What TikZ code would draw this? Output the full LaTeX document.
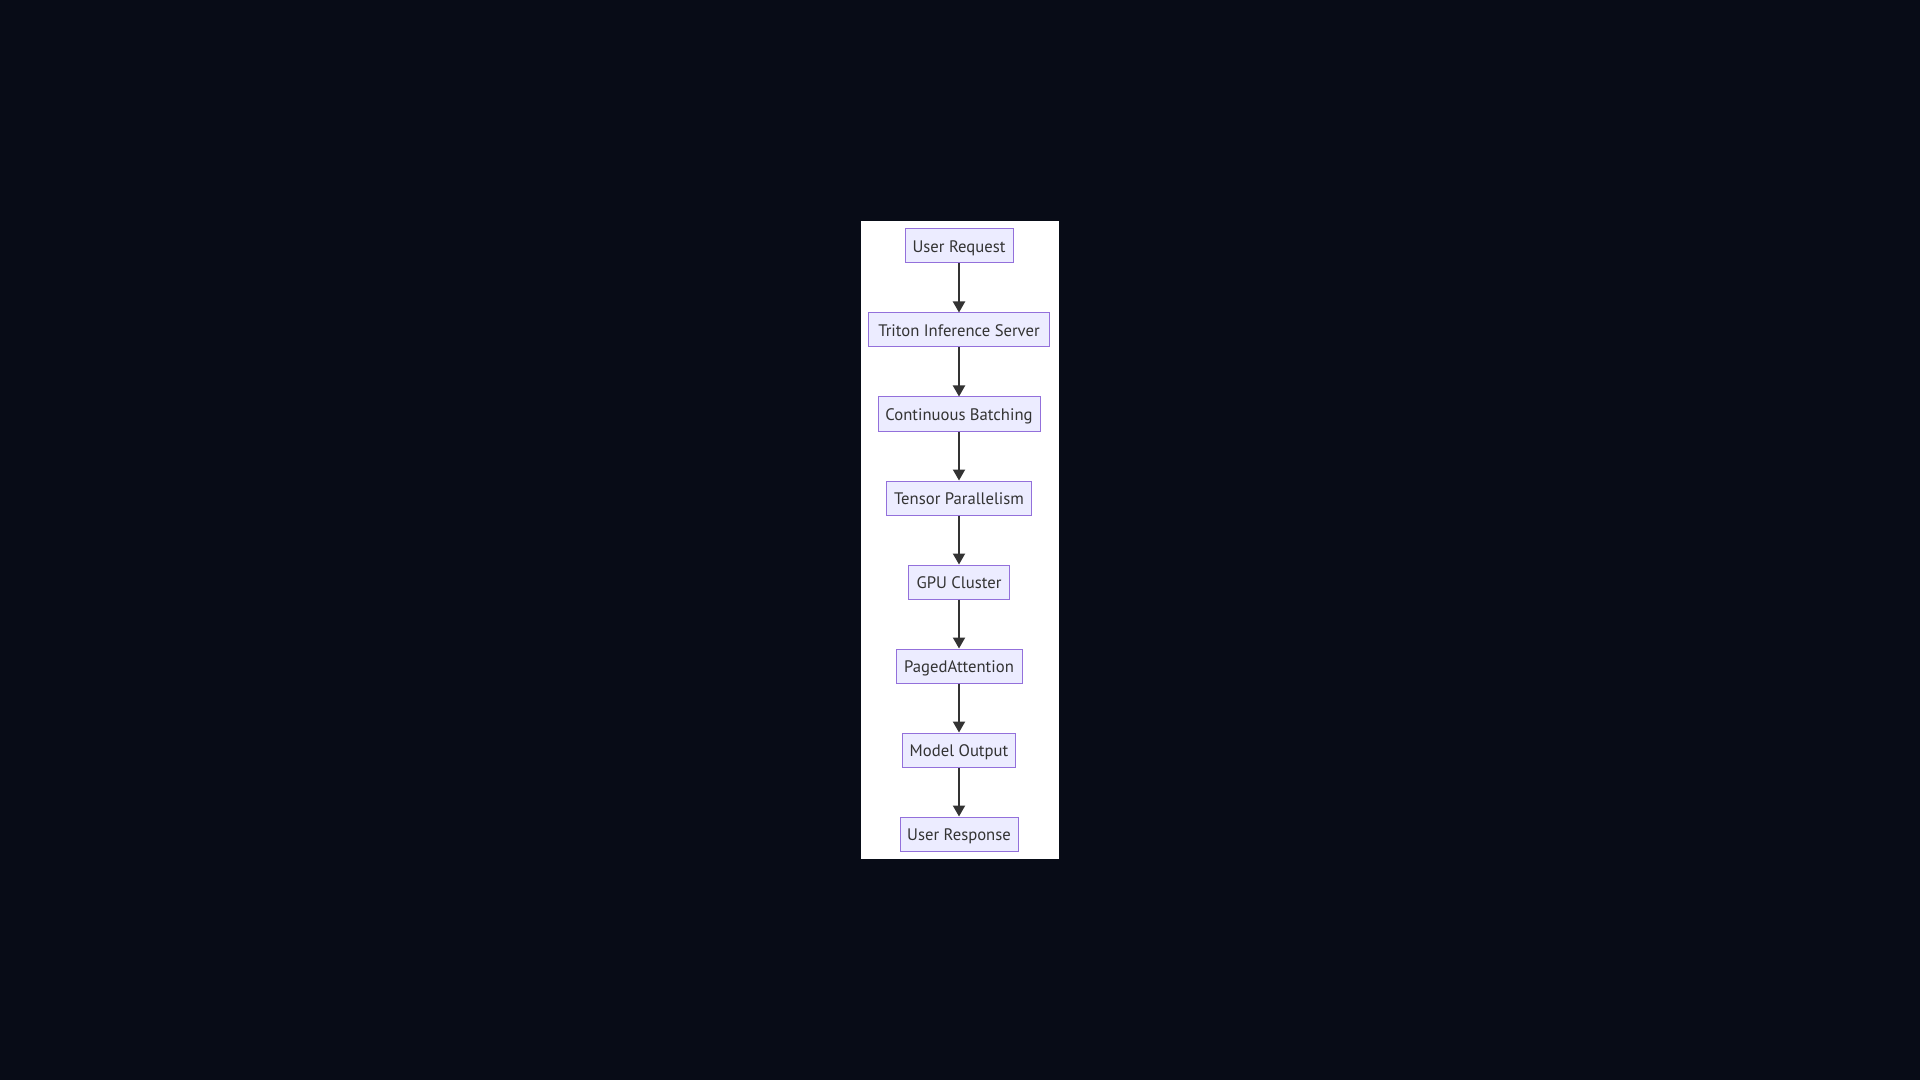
\documentclass[tikz,border=0pt]{standalone}
\usepackage{fontspec}
\setmainfont{PT Sans}
\usepackage{tikz}
\usetikzlibrary{arrows.meta}
\definecolor{bgdark}{RGB}{8,12,23}
\definecolor{boxfill}{HTML}{ECECFF}
\definecolor{boxline}{HTML}{9370DB}
\definecolor{flowline}{HTML}{333333}
\tikzset{
  stage/.style={draw=boxline, fill=boxfill, line width=0.75pt, text=flowline,
    minimum height=25.5pt, inner xsep=5pt, text height=10.5pt, text depth=0.5pt,
    font=\fontsize{12.5pt}{14pt}\selectfont},
  flow/.style={draw=flowline, line width=1.5pt,
    -{Triangle[length=8.25pt, width=9pt]}}
}

\begin{document}
\begin{tikzpicture}[x=0.75pt, y=-0.75pt]
\useasboundingbox (0,0) rectangle (1920,1080);
\fill[bgdark] (0,0) rectangle (1920,1080);
\fill[white] (861,221) rectangle (1059,859);
\node[stage, minimum width=81pt] (request) at (959, 246) {User Request};
\node[stage, minimum width=135.75pt] (triton) at (959, 330) {Triton Inference Server};
\node[stage, minimum width=121.5pt] (batching) at (959, 414) {Continuous Batching};
\node[stage, minimum width=108.75pt] (tensor) at (959, 498) {Tensor Parallelism};
\node[stage, minimum width=75.75pt] (gpu) at (959, 582) {GPU Cluster};
\node[stage, minimum width=94.5pt] (paged) at (959, 666) {PagedAttention};
\node[stage, minimum width=84.75pt] (output) at (959, 750) {Model Output};
\node[stage, minimum width=88.5pt] (response) at (959, 834) {User Response};
%arrows
\draw[flow] (request) -- (triton);
\draw[flow] (triton) -- (batching);
\draw[flow] (batching) -- (tensor);
\draw[flow] (tensor) -- (gpu);
\draw[flow] (gpu) -- (paged);
\draw[flow] (paged) -- (output);
\draw[flow] (output) -- (response);
\end{tikzpicture}
\end{document}
